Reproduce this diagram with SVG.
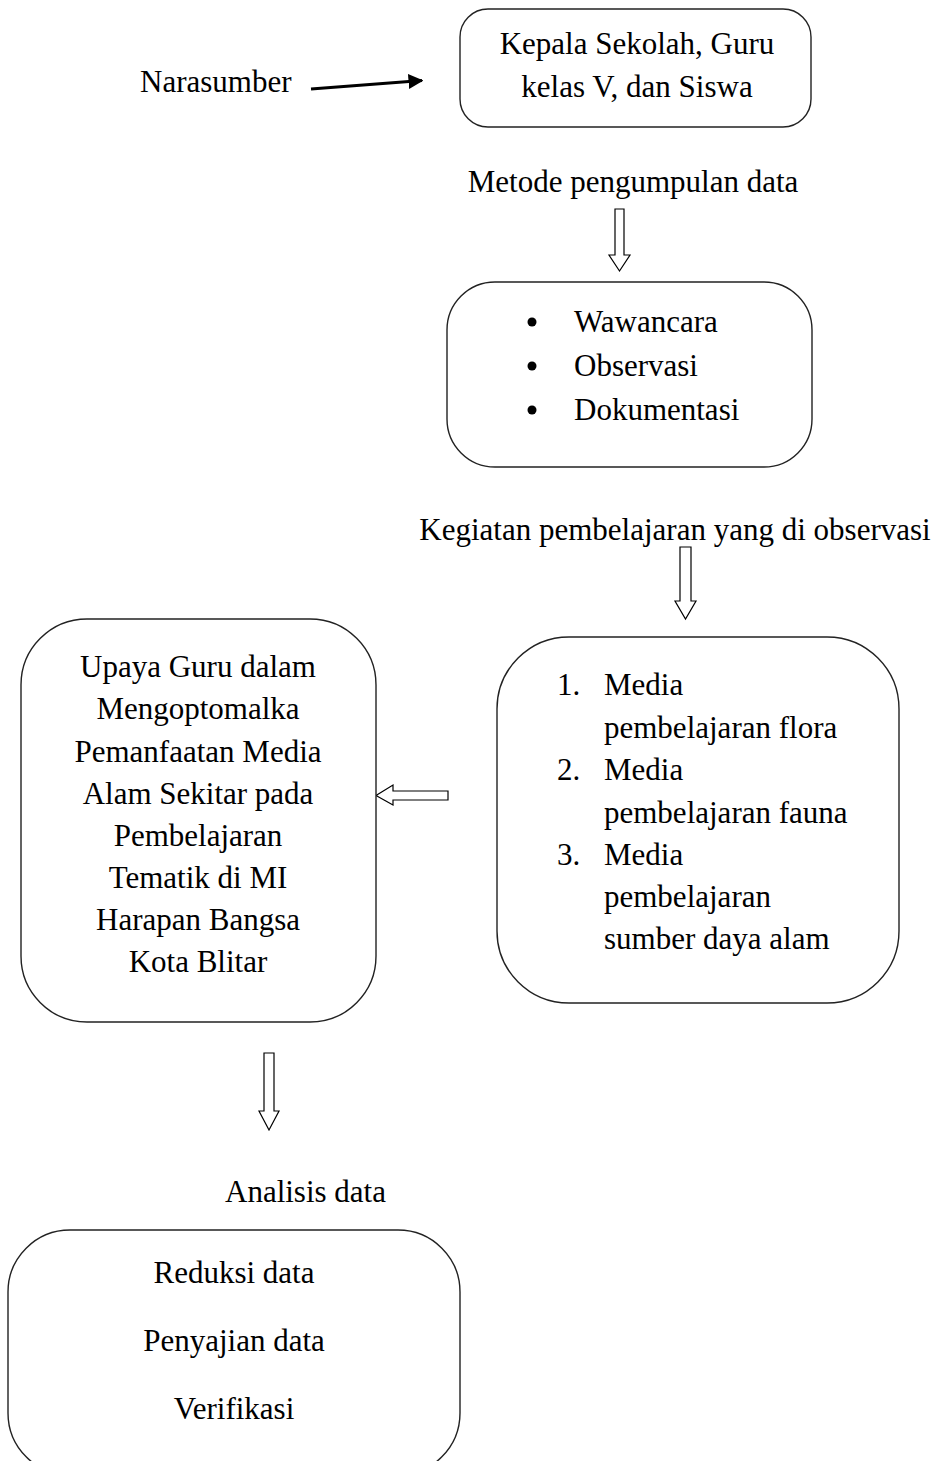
<svg xmlns="http://www.w3.org/2000/svg" width="946" height="1461" viewBox="0 0 946 1461">
<style>
text{font-family:"Liberation Serif","Times New Roman",serif;font-size:31px;fill:#000}
.box{fill:#fff;stroke:#222;stroke-width:1.4}
.blk{fill:#fff;stroke:#000;stroke-width:1.2}
.c{text-anchor:middle}
</style>
<defs>
<marker id="ah" viewBox="0 0 10 10" refX="9" refY="5" markerWidth="5" markerHeight="5" orient="auto" markerUnits="strokeWidth">
<path d="M0,0 L10,5 L0,10 z" fill="#000"/>
</marker>
</defs>
<rect width="946" height="1461" fill="#fff"/>
<g id="connectors">
<line x1="311" y1="89" x2="422" y2="80.5" stroke="#000" stroke-width="3" marker-end="url(#ah)"/>
<path class="blk" d="M615,209 H624 V255 H630 L619.5,271 L609,255 H615 Z"/>
<path class="blk" d="M680,547 H691 V601 H696 L685.5,619 L675,601 H680 Z"/>
<path class="blk" d="M448,791 V800 H393 V805 L376,795.5 L393,785 V791 Z"/>
<path class="blk" d="M264,1053 H274 V1111 H279 L269,1130 L259,1111 H264 Z"/>
</g>
<g id="narasumber"><text x="140" y="92">Narasumber</text></g>
<g id="node-kepala">
<rect class="box" x="460" y="9" width="351" height="118" rx="28"/>
<text class="c" x="637" y="54">Kepala Sekolah, Guru</text>
<text class="c" x="637" y="97">kelas V, dan Siswa</text>
</g>
<g id="label-metode"><text class="c" x="633" y="192">Metode pengumpulan data</text></g>
<g id="node-metode">
<rect class="box" x="447" y="282" width="365" height="185" rx="48"/>
<circle cx="532" cy="322" r="4.5"/>
<circle cx="532" cy="366" r="4.5"/>
<circle cx="532" cy="410" r="4.5"/>
<text x="574" y="332">Wawancara</text>
<text x="574" y="376">Observasi</text>
<text x="574" y="420">Dokumentasi</text>
</g>
<g id="label-kegiatan"><text class="c" x="675" y="540">Kegiatan pembelajaran yang di observasi</text></g>
<g id="node-media">
<rect class="box" x="497" y="637" width="402" height="366" rx="72"/>
<text x="557" y="695">1.</text><text x="604" y="695">Media</text>
<text x="604" y="738">pembelajaran flora</text>
<text x="557" y="780">2.</text><text x="604" y="780">Media</text>
<text x="604" y="823">pembelajaran fauna</text>
<text x="557" y="865">3.</text><text x="604" y="865">Media</text>
<text x="604" y="907">pembelajaran</text>
<text x="604" y="949">sumber daya alam</text>
</g>
<g id="node-upaya">
<rect class="box" x="21" y="619" width="355" height="403" rx="66"/>
<text class="c" x="198" y="677">Upaya Guru dalam</text>
<text class="c" x="198" y="719">Mengoptomalka</text>
<text class="c" x="198" y="762">Pemanfaatan Media</text>
<text class="c" x="198" y="804">Alam Sekitar pada</text>
<text class="c" x="198" y="846">Pembelajaran</text>
<text class="c" x="198" y="888">Tematik di MI</text>
<text class="c" x="198" y="930">Harapan Bangsa</text>
<text class="c" x="198" y="972">Kota Blitar</text>
</g>
<g id="label-analisis"><text x="225" y="1202">Analisis data</text></g>
<g id="node-analisis">
<rect class="box" x="8" y="1230" width="452" height="245" rx="62"/>
<text class="c" x="234" y="1283">Reduksi data</text>
<text class="c" x="234" y="1351">Penyajian data</text>
<text class="c" x="234" y="1419">Verifikasi</text>
</g>
</svg>
